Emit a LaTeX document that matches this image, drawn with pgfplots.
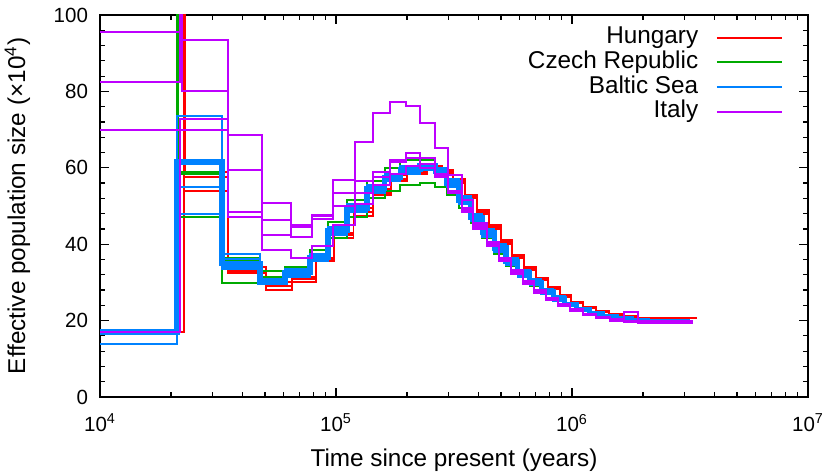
\documentclass[border=0pt]{standalone}
\usepackage{fontspec}
\setmainfont{Liberation Sans}
\usepackage{pgfplots}
\pgfplotsset{compat=1.18}
\usepackage{pgfplotstable}

\definecolor{hun}{RGB}{255,0,0}
\definecolor{cze}{RGB}{0,170,0}
\definecolor{bal}{RGB}{0,130,255}
\definecolor{ita}{RGB}{190,0,255}

% Hungary, 3 bootstrap runs
\pgfplotstableread{
x h1 h2 h3
5000 17 17 17
2.26e4 130 57.5 54
2.30e4 59 57.5 54
3.50e4 32.5 34 33
5.07e4 28 30 29
6.48e4 30 31.5 31
8.26e4 35.5 36.5 36
9.85e4 41.5 43 42.5
1.186e5 47.5 49.5 48.5
1.44e5 53 54.5 53.5
1.715e5 56.5 58 57
1.99e5 58.5 59.5 59
2.42e5 59.5 60.5 60
2.80e5 58.5 59.5 59
3.14e5 56 57 56.5
3.53e5 52 53 52.5
3.96e5 48 49 48.5
4.44e5 44 45 44.5
4.98e5 40 41 40.5
5.59e5 36.5 37.3 37
6.27e5 33.3 34 33.6
7.04e5 30.5 31.2 30.8
7.89e5 28.2 28.7 28.4
8.86e5 26.2 26.7 26.4
9.94e5 24.6 25 24.8
1.115e6 23.3 23.6 23.4
1.266e6 22.2 22.5 22.3
1.437e6 21.4 21.7 21.5
1.65e6 20.9 21.1 21
1.894e6 20.6 20.8 20.7
2.225e6 20.5 20.7 20.6
2.675e6 20.6 20.8 20.7
3.39e6 20.6 20.8 20.7
}\hungary

% Czech Republic
\pgfplotstableread{
x g1 g2 g3 g4
5000 17 17 17 17
2.12e4 130 58.5 48 47
2.15e4 59 58.5 48 47
3.29e4 35.5 29.8 36.5 34.5
4.76e4 31 33 30.5 31.5
6.08e4 33 34 32.5 33.5
7.76e4 37 38.5 36 37.5
9.25e4 44 45.8 41.6 43
1.114e5 50 51.5 47 49
1.352e5 55 56.5 52 54
1.61e5 58 60 54 57.5
1.87e5 60 62 55.5 59
2.27e5 61 62 56 59.5
2.63e5 59 60 55 58
2.95e5 56 57 53 55
3.31e5 51.5 52.5 49.5 51
3.72e5 47 48 45.5 46.5
4.17e5 42.5 43.5 41.5 42.5
4.68e5 38.5 39.5 37.5 38.5
5.25e5 35 36 34.2 35
5.89e5 32 33 31.5 32
6.61e5 29.5 30.3 29 29.6
7.41e5 27.3 28 26.9 27.4
8.32e5 25.5 26 25.2 25.6
9.33e5 24 24.5 23.7 24.1
1.047e6 22.8 23.2 22.5 22.9
1.189e6 21.7 22 21.4 21.8
1.349e6 20.9 21.2 20.7 21
1.549e6 20.4 20.6 20.2 20.5
1.778e6 20 20.2 19.8 20.1
2.089e6 19.8 20 19.6 19.9
2.512e6 19.8 20 19.6 19.9
3.2e6 19.8 20 19.6 19.9
}\czech

% Baltic Sea (b1 = main run, drawn thick)
\pgfplotstableread{
x b1 b2 b3 b4 b5
5000 17 17 17 17 14
2.12e4 61.5 73.5 70 55 48
3.29e4 35 37.5 36 34 33.5
4.76e4 30 31 29.5 30.5 29.5
6.08e4 32.5 33.5 32 33 31.5
7.76e4 36.5 37.5 36 37 35.5
9.25e4 43.5 44.5 43 44 42.5
1.114e5 49.5 50.5 49 50 48.5
1.352e5 54.5 55.5 54 55 53.5
1.61e5 57.5 58.5 57 58 56.5
1.87e5 59.5 60.5 59 60 58.5
2.27e5 60.5 61 60 61 59.5
2.63e5 59 60 58.5 59.5 58
2.95e5 56 57 55.5 56.5 55
3.31e5 51.5 52.5 51 52 50.5
3.72e5 47 48 46.5 47.5 46
4.17e5 43 44 42.5 43.5 42
4.68e5 39 40 38.5 39.5 38
5.25e5 35.5 36.5 35 36 34.5
5.89e5 32.5 33.3 32 33 31.5
6.61e5 30 30.8 29.5 30.5 29.2
7.41e5 27.7 28.4 27.3 28 27
8.32e5 25.8 26.4 25.5 26.1 25.2
9.33e5 24.2 24.7 23.9 24.5 23.7
1.047e6 23 23.4 22.7 23.2 22.5
1.189e6 21.8 22.2 21.5 22 21.4
1.349e6 21 21.3 20.8 21.2 20.6
1.549e6 20.4 20.7 20.2 20.6 20.1
1.778e6 20 20.2 19.8 20.1 19.7
2.089e6 19.8 20 19.6 19.9 19.5
2.512e6 19.7 19.9 19.5 19.8 19.5
3.16e6 19.7 19.9 19.5 19.8 19.5
}\baltic

% Italy
\pgfplotstableread{
x p1 p2 p3 p4
5000 95.5 82.5 70 17
2.18e4 93.5 130 72.8 70
2.22e4 93.5 80 72.8 70
3.49e4 59.5 68.6 48.5 47
4.86e4 50.8 46.3 38.5 42.4
6.47e4 45 42 36.4 44.5
7.9e4 47.5 46.5 39.5 47.6
9.7e4 53.4 56.8 45 50
1.2e5 56.5 66.8 50.5 53.5
1.436e5 59 74.3 55.5 57.5
1.694e5 62 77.2 58.5 61.5
1.98e5 63.8 76.2 60.5 62.5
2.27e5 62.5 71.7 60 61
2.62e5 58.5 65.2 57.5 58
2.98e5 54 58.1 53.5 53.8
3.42e5 49 51.6 48.5 49.5
3.80e5 44.5 45.5 44 45
4.36e5 40 39.5 39.5 40.5
4.9e5 36 35.5 35.5 36.5
5.5e5 32.8 32.5 32.3 33.2
6.17e5 30 29.8 29.6 30.4
6.92e5 27.6 27.4 27.2 28
7.76e5 25.6 25.4 25.3 26
8.71e5 24 23.8 23.7 24.3
9.77e5 22.7 22.5 22.4 23
1.109e6 21.6 21.5 21.4 21.8
1.259e6 20.8 20.7 20.6 21
1.445e6 20.2 20.2 20 20.4
1.66e6 19.9 19.9 19.7 22.3
1.905e6 19.7 19.8 19.5 19.9
2.239e6 19.6 19.7 19.4 19.8
2.692e6 19.6 19.7 19.4 19.8
3.24e6 19.6 19.7 19.4 19.8
}\italy

\begin{document}
\begin{tikzpicture}
\begin{axis}[
  scale only axis, width=354bp, height=191bp,
  xmode=log, xmin=1e4, xmax=1e7, ymin=0, ymax=100,
  xtick={1e4,1e5,1e6,1e7},
  xticklabels={10\textsuperscript{4},10\textsuperscript{5},10\textsuperscript{6},10\textsuperscript{7}},
  minor xtick={2e4,3e4,4e4,5e4,6e4,7e4,8e4,9e4,2e5,3e5,4e5,5e5,6e5,7e5,8e5,9e5,2e6,3e6,4e6,5e6,6e6,7e6,8e6,9e6},
  ytick={0,20,40,60,80,100}, minor y tick num=4,
  /pgf/number format/assume math mode=true,
  axis line style={line width=0.9pt},
  tick style={black, line width=0.6pt},
  major tick length=4.5bp, minor tick length=2.5bp,
  tick label style={font=\fontsize{10.3}{12}\selectfont},
  xticklabel style={yshift=-5bp},
  yticklabel style={xshift=-2.5bp},
  label style={font=\fontsize{12.2}{14}\selectfont},
  ylabel shift=5bp, xlabel shift=2bp,
  xlabel={Time since present (years)},
  ylabel={Effective population size (×10\textsuperscript{4})},
  every axis plot/.append style={const plot, line width=1pt},
  legend plot pos=right,
  legend cell align=right,
  legend image code/.code={\path (0bp,0bp); \draw[#1] (8.5bp,0bp) -- (41bp,0bp);},
  legend style={draw=none, fill=none, inner sep=0pt, at={(0.965,0.973)}, anchor=north east,
    font=\fontsize{12.2}{14}\selectfont, row sep=0.3bp,
    nodes={inner sep=0.3bp, text height=8.8bp, text depth=2.6bp}},
]
\addlegendimage{hun, line width=1pt}\addlegendentry{Hungary}
\addlegendimage{cze, line width=1pt}\addlegendentry{Czech Republic}
\addlegendimage{bal, line width=1pt}\addlegendentry{Baltic Sea}
\addlegendimage{ita, line width=1pt}\addlegendentry{Italy}

\addplot[hun, forget plot] table[x=x, y=h1] {\hungary};
\addplot[hun, forget plot] table[x=x, y=h2] {\hungary};
\addplot[hun, forget plot] table[x=x, y=h3] {\hungary};

\addplot[cze, forget plot] table[x=x, y=g1] {\czech};
\addplot[cze, forget plot] table[x=x, y=g2] {\czech};
\addplot[cze, forget plot] table[x=x, y=g3] {\czech};
\addplot[cze, forget plot] table[x=x, y=g4] {\czech};

\addplot[bal, forget plot] table[x=x, y=b2] {\baltic};
\addplot[bal, forget plot] table[x=x, y=b3] {\baltic};
\addplot[bal, forget plot] table[x=x, y=b4] {\baltic};
\addplot[bal, forget plot] table[x=x, y=b5] {\baltic};
\addplot[bal, forget plot, line width=2.6pt] table[x=x, y=b1] {\baltic};

\addplot[ita, forget plot] table[x=x, y=p1] {\italy};
\addplot[ita, forget plot] table[x=x, y=p2] {\italy};
\addplot[ita, forget plot] table[x=x, y=p3] {\italy};
\addplot[ita, forget plot] table[x=x, y=p4] {\italy};

\coordinate (ll) at (rel axis cs:0,0);
\coordinate (ur) at (rel axis cs:1,1);
\end{axis}
\pgfresetboundingbox
\path ([shift={(-50bp,-38.5bp)}]ll) rectangle ([shift={(8bp,7.5bp)}]ur);
\end{tikzpicture}
\end{document}
